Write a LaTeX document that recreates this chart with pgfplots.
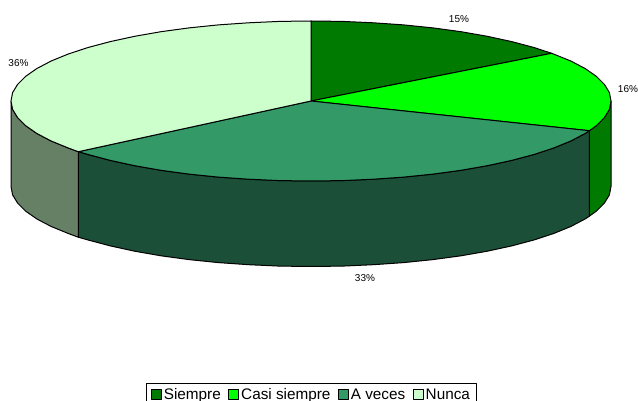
\documentclass[border=0pt]{standalone}
\usepackage{fontspec}
\setmainfont{Liberation Sans}
\usepackage{pgfplots}
\pgfplotsset{compat=1.18}
\definecolor{cSiempre}{HTML}{007A00}
\definecolor{cCasi}{HTML}{00FF00}
\definecolor{cVeces}{HTML}{339966}
\definecolor{cNunca}{HTML}{CCFFCC}
\definecolor{wRight}{HTML}{007A00}
\definecolor{wFront}{HTML}{1C4F37}
\definecolor{wLeft}{HTML}{668066}
\begin{document}
\begin{tikzpicture}[line join=round]
\useasboundingbox (0,0) rectangle (638pt,401pt);
\clip (0,0) rectangle (638pt,401pt);
\begin{axis}[
  at={(0,0)}, anchor=south west,
  scale only axis, width=638pt, height=401pt,
  xmin=0, xmax=638, ymin=0, ymax=401, y dir=reverse,
  hide axis, clip=false,
  legend columns=-1,
  legend style={
    at={(axis cs:146,383)}, anchor=north west,
    draw=black, line width=0.9pt, fill=white,
    inner xsep=4.5pt, inner ysep=3pt,
    font=\fontsize{15.3}{16}\selectfont,
    nodes={text height=11.2pt, text depth=3.2pt},
    /tikz/every even column/.append style={column sep=5.5pt},
  },
  legend image code/.code={
    \draw[#1, line width=0.9pt] (0pt,-3.5pt) rectangle (10pt,6.5pt);
  },
]
% side walls of the disc
\addplot[forget plot, fill=wRight, draw=black, line width=1pt] coordinates {
  (611,101) (609.4,109.4) (604.4,117.6) (596.3,125.7) (589.3,130.7)
  (589.3,216.2) (596.3,211.2) (604.4,203.1) (609.4,194.9) (611,186.5)
} -- cycle;
\addplot[forget plot, fill=wFront, draw=black, line width=1pt] coordinates {
  (589.3,130.7) (585.1,133.5) (570.8,141) (553.7,148) (533.9,154.5) (511.7,160.4)
  (487.3,165.7) (461,170.3) (433,174.1) (403.7,177.1) (373.4,179.2) (342.4,180.6)
  (311,181) (279.6,180.6) (248.6,179.2) (218.3,177.1) (189,174.1) (161,170.3)
  (134.7,165.7) (110.3,160.4) (88.1,154.5) (78.3,151.7)
  (78.3,237.2) (88.1,240) (110.3,245.9) (134.7,251.2) (161,255.8) (189,259.6)
  (218.3,262.6) (248.6,264.7) (279.6,266.1) (311,266.5) (342.4,266.1) (373.4,264.7)
  (403.7,262.6) (433,259.6) (461,255.8) (487.3,251.2) (511.7,245.9) (533.9,240)
  (553.7,233.5) (570.8,226.5) (585.1,219) (589.3,216.2)
} -- cycle;
\addplot[forget plot, fill=wLeft, draw=black, line width=1pt] coordinates {
  (78.3,151.7) (68.3,148) (51.2,141) (36.9,133.5) (25.7,125.7) (17.6,117.6)
  (12.6,109.4) (11,101) (11,186.5) (12.6,194.9) (17.6,203.1) (25.7,211.2)
  (36.9,219) (51.2,226.5) (68.3,233.5) (78.3,237.2)
} -- cycle;
% top faces of the slices
\addplot[fill=cSiempre, draw=black, line width=1pt] coordinates {
  (311,101) (311,21) (342.4,21.4) (373.4,22.8) (403.7,24.9) (433,27.9) (461,31.7)
  (487.3,36.3) (511.7,41.6) (533.9,47.5) (551.7,53.3)
} -- cycle;
\addplot[fill=cCasi, draw=black, line width=1pt] coordinates {
  (311,101) (551.7,53.3) (570.8,61) (585.1,68.5) (596.3,76.3) (604.4,84.4)
  (609.4,92.6) (611,101) (609.4,109.4) (604.4,117.6) (596.3,125.7) (589.3,130.7)
} -- cycle;
\addplot[fill=cVeces, draw=black, line width=1pt] coordinates {
  (311,101) (589.3,130.7) (585.1,133.5) (570.8,141) (553.7,148) (533.9,154.5)
  (511.7,160.4) (487.3,165.7) (461,170.3) (433,174.1) (403.7,177.1) (373.4,179.2)
  (342.4,180.6) (311,181) (279.6,180.6) (248.6,179.2) (218.3,177.1) (189,174.1)
  (161,170.3) (134.7,165.7) (110.3,160.4) (88.1,154.5) (78.3,151.7)
} -- cycle;
\addplot[fill=cNunca, draw=black, line width=1pt] coordinates {
  (311,101) (78.3,151.7) (68.3,148) (51.2,141) (36.9,133.5) (25.7,125.7) (17.6,117.6)
  (12.6,109.4) (11,101) (12.6,92.6) (17.6,84.4) (25.7,76.3) (36.9,68.5) (51.2,61)
  (68.3,54) (88.1,47.5) (110.3,41.6) (134.7,36.3) (161,31.7) (189,27.9) (218.3,24.9)
  (248.6,22.8) (279.6,21.4) (311,21)
} -- cycle;
\legend{Siempre,Casi siempre,A veces,Nunca}
% percentage labels
\begingroup
\tikzset{every node/.style={font=\fontsize{11}{12}\selectfont, text=black!85, inner sep=0pt}}
\node at (axis cs:459,19.5) {15\%};
\node at (axis cs:628,89.5) {16\%};
\node at (axis cs:365,278.5) {33\%};
\node at (axis cs:18.5,63.5) {36\%};
\endgroup
\end{axis}
\end{tikzpicture}
\end{document}
